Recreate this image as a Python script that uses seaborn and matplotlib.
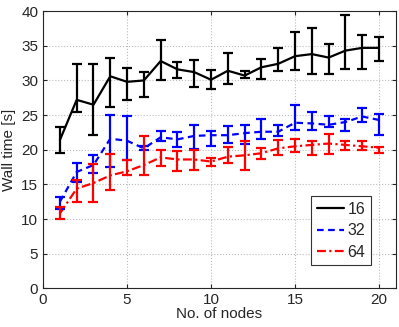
import numpy as np
import pandas as pd
import seaborn as sns
import matplotlib.pyplot as plt

nodes = list(range(1, 21))

# 16 processes
mean16 = [21.4, 27.2, 26.5, 30.6, 29.8, 30.0, 32.8, 31.6, 31.2, 30.1,
          31.4, 30.7, 31.9, 32.4, 33.5, 33.8, 33.3, 34.3, 34.7, 34.7]
hi16 = [23.3, 32.4, 32.4, 33.3, 31.8, 31.2, 35.9, 32.6, 32.9, 31.5,
        34.0, 31.3, 33.1, 34.7, 37.0, 37.6, 35.3, 39.4, 36.6, 36.3]
lo16 = [19.5, 25.4, 22.2, 26.2, 27.2, 27.6, 30.0, 30.3, 29.1, 28.7,
        29.5, 30.4, 30.2, 31.3, 31.5, 30.9, 31.0, 31.7, 31.7, 32.8]

# 32 processes
mean32 = [12.5, 16.8, 17.8, 21.6, 21.3, 20.2, 21.8, 21.5, 22.0, 22.1,
          22.1, 22.4, 22.6, 22.6, 23.9, 23.8, 23.6, 24.0, 24.8, 24.3]
hi32 = [13.2, 18.1, 19.2, 25.0, 24.9, 20.5, 22.7, 22.6, 23.6, 22.7,
        23.4, 23.6, 24.5, 23.6, 26.4, 25.5, 24.9, 24.5, 26.0, 25.2]
lo32 = [11.5, 15.4, 16.6, 17.5, 18.5, 19.9, 21.3, 20.4, 20.1, 20.5,
        21.0, 20.9, 21.5, 22.0, 22.9, 22.9, 23.3, 22.7, 24.0, 22.1]

# 64 processes
mean64 = [10.8, 14.4, 15.2, 16.3, 16.9, 17.8, 18.9, 18.6, 18.6, 18.3,
          19.0, 19.2, 19.5, 20.2, 20.5, 20.7, 20.9, 20.7, 20.5, 20.3]
hi64 = [11.7, 15.6, 17.9, 19.4, 18.5, 22.0, 19.9, 19.8, 19.9, 18.8,
        20.4, 21.2, 20.2, 21.4, 21.5, 21.2, 22.3, 21.2, 21.3, 20.4]
lo64 = [10.0, 12.5, 12.5, 14.2, 16.3, 16.3, 17.6, 17.0, 17.1, 17.6,
        18.1, 17.1, 18.6, 19.2, 19.7, 19.2, 19.4, 20.0, 20.0, 19.5]

series = ["16", "32", "64"]
colors = {"16": "black", "32": "blue", "64": "red"}
dashes = {"16": "", "32": (3, 2), "64": (4, 1.5, 1, 1.5)}

df = pd.DataFrame({
    "nodes": nodes * 3,
    "time": mean16 + mean32 + mean64,
    "lo": lo16 + lo32 + lo64,
    "hi": hi16 + hi32 + hi64,
    "procs": ["16"] * 20 + ["32"] * 20 + ["64"] * 20,
})

sns.set_style("ticks")
plt.rcParams["font.family"] = ["Liberation Sans", "DejaVu Sans"]

fig = plt.figure(figsize=(3.99, 3.27), dpi=100)
ax = fig.add_axes([0.108, 0.118, 0.884, 0.848])

sns.lineplot(data=df, x="nodes", y="time", hue="procs", style="procs",
             palette=colors, dashes=dashes, linewidth=1.6, ax=ax)

for s in series:
    d = df[df.procs == s]
    ax.errorbar(d.nodes, d.time, yerr=[d.time - d.lo, d.hi - d.time],
                fmt="none", ecolor=colors[s], elinewidth=1.6, capsize=3.5,
                capthick=1.6)

ax.set_xlim(0, 21)
ax.set_ylim(0, 40)
ax.set_xticks([0, 5, 10, 15, 20])
ax.set_yticks(range(0, 41, 5))
ax.grid(True, linestyle=":", color="#bbbbbb", linewidth=0.8)
ax.tick_params(direction="in", labelsize=11, top=True, right=True, length=3)
for sp in ax.spines.values():
    sp.set_linewidth(0.8)
ax.set_xlabel("No. of nodes", fontsize=11, labelpad=0)
ax.set_ylabel("Wall time [s]", fontsize=11)

leg = ax.legend(loc="lower right", bbox_to_anchor=(0.93, 0.083), fontsize=11.5,
                frameon=True, fancybox=False, edgecolor="black",
                handlelength=1.7, handletextpad=0.25, borderpad=0.35,
                labelspacing=0.4, borderaxespad=0)
leg.get_frame().set_linewidth(0.8)

fig.savefig("out.png", dpi=100)
